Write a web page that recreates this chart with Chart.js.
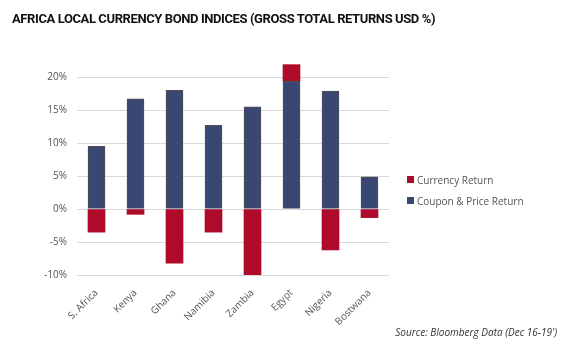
<!DOCTYPE html>
<html>
<head>
<meta charset="utf-8">
<script src="https://cdn.jsdelivr.net/npm/chart.js@4"></script>
<style>
  body { margin: 0; background: #fff; }
  #wrap { position: relative; width: 571px; height: 352px; }
  #title {
    position: absolute; left: 12px; top: 11px;
    font: bold 13px "Roboto", sans-serif;
    color: #111; white-space: nowrap; letter-spacing: -0.4px;
  }
  #legend { position: absolute; left: 407px; top: 173px; font: 10px "Open Sans", sans-serif; color: #555; }
  #legend div { height: 21px; display: flex; align-items: flex-start; }
  #legend span.box { width: 7px; height: 7px; margin: 3px 3px 0 0; }
  #source {
    position: absolute; right: 14px; top: 325px;
    font: italic 10px "Open Sans", sans-serif; color: #333;
  }
  canvas { position: absolute; left: 0; top: 0; }
</style>
</head>
<body>
<div id="wrap">
  <canvas id="barChart" width="571" height="352"></canvas>
  <div id="title">AFRICA LOCAL CURRENCY BOND INDICES (GROSS TOTAL RETURNS USD %)</div>
  <div id="legend"></div>
  <div id="source">Source: Bloomberg Data (Dec 16-19')</div>
</div>
<script>
const countries = ['S. Africa', 'Kenya', 'Ghana', 'Namibia', 'Zambia', 'Egypt', 'Nigeria', 'Bostwana'];
const couponPrice = [9.5, 16.7, 18.0, 12.7, 15.5, 19.4, 17.9, 4.9];
const currency = [-3.5, -0.8, -8.2, -3.5, -10.0, 2.5, -6.2, -1.3];

const BLUE = '#3a4773';
const RED = '#ad0b29';

const chart = new Chart(document.getElementById('barChart'), {
    type: 'bar',
    data: {
        labels: countries,
        datasets: [
            { label: 'Coupon & Price Return', data: couponPrice, backgroundColor: BLUE, borderColor: '#4f4f4f', borderWidth: 1 },
            { label: 'Currency Return', data: currency, backgroundColor: RED, borderWidth: 0 }
        ]
    },
    options: {
        responsive: false,
        animation: false,
        layout: { padding: { top: 64, right: 182, left: 0, bottom: 0 } },
        datasets: { bar: { barThickness: 17 } },
        plugins: { legend: { display: false }, tooltip: { enabled: false } },
        scales: {
            x: {
                stacked: true,
                grid: { display: false },
                border: { display: false },
                ticks: { minRotation: 45, maxRotation: 45, padding: 4, color: '#555', font: { family: 'Open Sans', size: 10 } },
                afterFit: scale => { scale.height = 77; }
            },
            y: {
                stacked: true,
                min: -10,
                max: 22,
                grid: { color: '#d9d9d9', drawTicks: false },
                border: { display: false },
                ticks: { stepSize: 5, padding: 10, color: '#555', font: { family: 'Open Sans', size: 10 }, callback: v => v + '%' },
                afterBuildTicks: axis => { axis.ticks = axis.ticks.filter(t => t.value % 5 === 0); },
                afterFit: scale => { scale.width = 77; }
            }
        }
    }
});

// legend: currency first, like the original
const legend = document.getElementById('legend');
chart.data.datasets.slice().reverse().forEach(ds => {
    const row = document.createElement('div');
    row.innerHTML = `<span class="box" style="background:${ds.backgroundColor}"></span>${ds.label}`;
    legend.appendChild(row);
});
</script>
</body>
</html>
